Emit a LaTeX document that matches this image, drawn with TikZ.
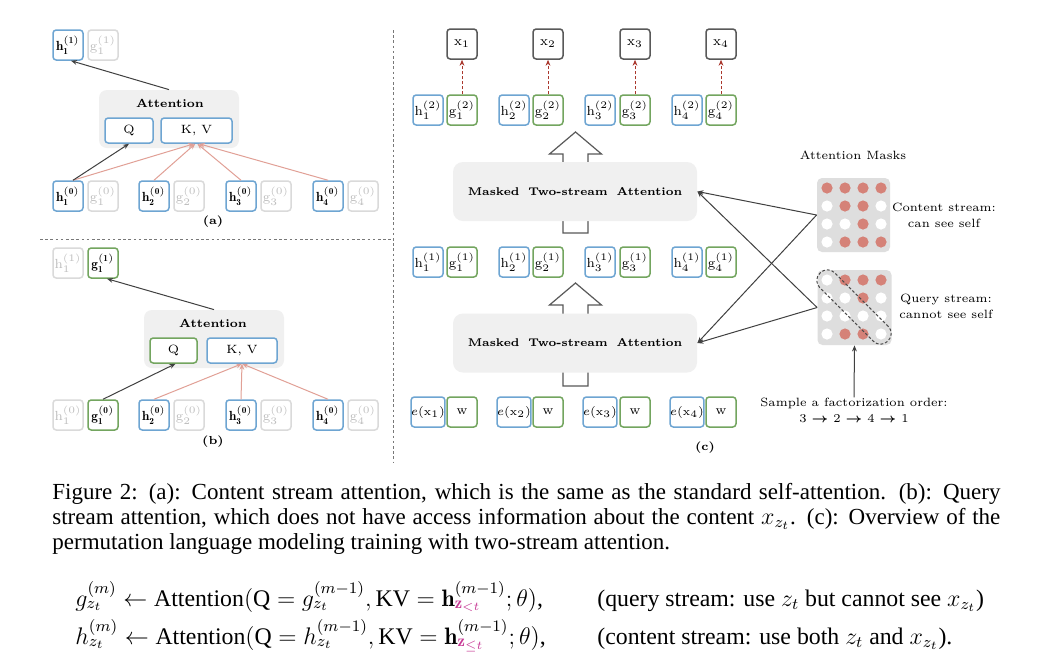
\documentclass[tikz,border=0pt]{standalone}
\usepackage{amsmath}
\usepackage{fontspec}
\usetikzlibrary{arrows.meta,shapes.geometric}
\newfontfamily\capfont{Liberation Serif}
\definecolor{bblue}{RGB}{110,165,210}
\definecolor{ggreen}{RGB}{115,165,95}
\definecolor{lgray}{RGB}{218,218,218}
\definecolor{lgtext}{RGB}{190,190,190}
\definecolor{attfill}{RGB}{240,240,240}
\definecolor{pinkline}{RGB}{225,160,150}
\definecolor{darkred}{RGB}{170,55,45}
\definecolor{dotred}{RGB}{213,130,120}
\definecolor{maskbg}{RGB}{222,222,222}
\definecolor{zcol}{RGB}{200,60,150}
\definecolor{sepgray}{RGB}{120,120,120}
\newcommand\diagfont{\fontsize{6}{7}\selectfont}
\newcommand\cellfont{\fontsize{6.6}{7.6}\selectfont}
\newcommand\blockarrow[4]{%
  \draw[blk] ({#1-12.5},#4) -- ({#1+12.5},#4) -- ({#1+12.5},#3) -- ({#1+26},#3) -- (#1,#2) -- ({#1-26},#3) -- ({#1-12.5},#3) -- cycle;}
\tikzset{
  cell/.style={draw, rounded corners=1.6pt, line width=0.75pt, minimum width=15pt, minimum height=15pt, inner sep=0pt, font=\cellfont, fill=white},
  hcell/.style={cell, draw=bblue},
  gcell/.style={cell, draw=ggreen},
  offcell/.style={cell, draw=lgray, text=lgtext},
  xcell/.style={cell, draw=black!65},
  attbox/.style={fill=attfill, rounded corners=4pt, minimum width=70pt, minimum height=29pt, inner sep=0pt},
  mbox/.style={fill=attfill, rounded corners=5pt, minimum width=122pt, minimum height=29.5pt, inner sep=0pt, font=\fontsize{5.6}{6.6}\selectfont\bfseries},
  blk/.style={draw=black!65, fill=white, line width=0.6pt},
  arr/.style={-{Stealth[length=3pt,width=2.4pt]}, line width=0.5pt, draw=black!75},
  parr/.style={arr, draw=pinkline},
  rarr/.style={arr, draw=darkred, dash pattern=on 1.5pt off 1pt},
  dot1/.style={circle, inner sep=0pt, minimum size=5.6pt, fill=dotred},
  dot0/.style={circle, inner sep=0pt, minimum size=5.6pt, fill=white},
  lbl/.style={font=\diagfont, align=center, inner sep=0pt},
  attlbl/.style={lbl, font=\fontsize{5.8}{6.8}\selectfont\bfseries},
  sep/.style={draw=sepgray, line width=0.5pt, dash pattern=on 1.3pt off 1.3pt},
  captxt/.style={font=\capfont\fontsize{11.5}{12.5}\selectfont, anchor=base west, inner sep=0pt},
  eqtxt/.style={font=\capfont\fontsize{11.9}{13}\selectfont, anchor=base west, inner sep=0pt},
}
\begin{document}
\begin{tikzpicture}[x=0.5pt,y=-0.5pt]
\useasboundingbox (0,0) rectangle (1039,671);
\fill[white] (0,0) rectangle (1039,671);

% separators
\draw[sep] (40,239) -- (393,239);
\draw[sep] (393,30) -- (393,462);

% ---------- panel (a)
\node[attbox] (aatt) at (169,119) {};
\node[attlbl] (aattl) at (170,103) {Attention};
\node[hcell, minimum width=24pt, minimum height=12.5pt, font=\diagfont] (aq) at (129,130.5) {Q};
\node[hcell, minimum width=35.5pt, minimum height=12.5pt, font=\diagfont] (akv) at (196.5,130.5) {K, V};
\node[hcell] (ah1t) at (68,45) {$\mathbf{h_1^{(1)}}$};
\node[offcell] (ag1t) at (103,45) {$\mathrm{g}_1^{(1)}$};
\node[hcell] (ah1) at (68,196) {$\mathbf{h_1^{(0)}}$};
\node[offcell] (ag1) at (103,196) {$\mathrm{g}_1^{(0)}$};
\node[hcell] (ah2) at (154,196) {$\mathbf{h_2^{(0)}}$};
\node[offcell] (ag2) at (189,196) {$\mathrm{g}_2^{(0)}$};
\node[hcell] (ah3) at (241,196) {$\mathbf{h_3^{(0)}}$};
\node[offcell] (ag3) at (276,196) {$\mathrm{g}_3^{(0)}$};
\node[hcell] (ah4) at (328,196) {$\mathbf{h_4^{(0)}}$};
\node[offcell] (ag4) at (363,196) {$\mathrm{g}_4^{(0)}$};
\node[attlbl] (alab) at (213,222) {(a)};
\draw[arr] (aatt.north) -- ([xshift=1.5pt]ah1t.south);
\draw[parr] ([xshift=2.5pt]ah1.north) -- ([xshift=-1.2pt]akv.south);
\draw[parr] (ah2.north) -- ([xshift=-0.6pt]akv.south);
\draw[parr] (ah3.north) -- ([xshift=0.4pt]akv.south);
\draw[parr] (ah4.north) -- ([xshift=1.2pt]akv.south);
\draw[arr] ([xshift=2.5pt]ah1.north) -- (aq.south);

% ---------- panel (b)
\node[attbox] (batt) at (214,339) {};
\node[attlbl] (battl) at (213,323) {Attention};
\node[gcell, minimum width=23.5pt, minimum height=12.5pt, font=\diagfont] (bq) at (173.5,350.5) {Q};
\node[hcell, minimum width=35pt, minimum height=12.5pt, font=\diagfont] (bkv) at (242,350.5) {K, V};
\node[offcell] (bh1t) at (68,263) {$\mathrm{h}_1^{(1)}$};
\node[gcell] (bg1t) at (103,263) {$\mathbf{g_1^{(1)}}$};
\node[offcell] (bh1) at (68,415) {$\mathrm{h}_1^{(0)}$};
\node[gcell] (bg1) at (103,415) {$\mathbf{g_1^{(0)}}$};
\node[hcell] (bh2) at (154,415) {$\mathbf{h_2^{(0)}}$};
\node[offcell] (bg2) at (189,415) {$\mathrm{g}_2^{(0)}$};
\node[hcell] (bh3) at (241,415) {$\mathbf{h_3^{(0)}}$};
\node[offcell] (bg3) at (276,415) {$\mathrm{g}_3^{(0)}$};
\node[hcell] (bh4) at (328,415) {$\mathbf{h_4^{(0)}}$};
\node[offcell] (bg4) at (363,415) {$\mathrm{g}_4^{(0)}$};
\node[attlbl] (blab) at (213,442) {(b)};
\draw[arr] (batt.north) -- ([xshift=2pt]bg1t.south);
\draw[parr] (bh2.north) -- (bkv.south);
\draw[parr] (bh3.north) -- (bkv.south);
\draw[parr] (bh4.north) -- (bkv.south);
\draw[arr] (bg1.north) -- ([xshift=1pt]bq.south);

% ---------- panel (c)
\blockarrow{575.5}{132}{154}{233}
\blockarrow{575.5}{283}{305}{386}
\node[mbox] (m1) at (575,191.5) {Masked\,\, Two-stream\,\, Attention};
\node[mbox] (m2) at (575,343) {Masked\,\, Two-stream\,\, Attention};
\foreach \i/\hx/\gx in {1/428/462, 2/514/548, 3/600/635, 4/687/721}{
  \node[xcell] (x\i) at (\gx,44) {$\mathrm{x}_\i$};
  \node[hcell] (chh\i) at (\hx,110) {$\mathrm{h}_\i^{(2)}$};
  \node[gcell] (cgg\i) at (\gx,110) {$\mathrm{g}_\i^{(2)}$};
  \node[hcell] (ch\i) at (\hx,262) {$\mathrm{h}_\i^{(1)}$};
  \node[gcell] (cg\i) at (\gx,262) {$\mathrm{g}_\i^{(1)}$};
  \node[hcell, font=\fontsize{5.7}{6.5}\selectfont] (ce\i) at (\hx,412) {$e(\mathrm{x}_\i)$};
  \node[gcell] (cw\i) at (\gx,412) {$\mathrm{w}$};
  \draw[rarr] (cgg\i.north) -- (x\i.south);
}
\node[attlbl] (clab) at (705,448) {(c)};

% masks
\node[lbl] (mtitle) at (853,155) {Attention Masks};
\node[fill=maskbg, rounded corners=2.5pt, minimum width=36.5pt, minimum height=37pt, inner sep=0pt] (cmask) at (853.5,215) {};
\node[fill=maskbg, rounded corners=2.5pt, minimum width=37pt, minimum height=37.5pt, inner sep=0pt] (qmask) at (854.5,307.5) {};
\foreach \r/\a/\b/\c/\d in {1/1/1/1/1, 2/0/1/1/0, 3/0/0/1/0, 4/0/1/1/1}{
  \foreach \col/\v in {1/\a, 2/\b, 3/\c, 4/\d}{
    \node[dot\v] (cd\r\col) at ({827+18*(\col-1)},{188+18*(\r-1)}) {};
  }
}
\foreach \r/\a/\b/\c/\d in {1/0/1/1/1, 2/0/0/1/0, 3/0/0/0/0, 4/0/1/1/0}{
  \foreach \col/\v in {1/\a, 2/\b, 3/\c, 4/\d}{
    \node[dot\v] (qd\r\col) at ({827+18*(\col-1)},{280+18*(\r-1)}) {};
  }
}
\node[draw=black!70, dash pattern=on 1.4pt off 1pt, line width=0.5pt, rounded corners=5pt, minimum width=48pt, minimum height=10.5pt, rotate=-45] (diag) at (854,307) {};
\node[lbl] (ctext) at (944,215.5) {Content stream:\\[1pt]can see self};
\node[lbl] (qtext) at (946,306.5) {Query stream:\\[1pt]cannot see self};
\node[lbl] (sample) at (854,410.5) {Sample a factorization order:\\[1.3pt]3 $\boldsymbol{\rightarrow}$ 2 $\boldsymbol{\rightarrow}$ 4 $\boldsymbol{\rightarrow}$ 1};
\draw[arr] (sample.north) -- (qmask.south);
\draw[arr] (cmask.west) -- (m1.east);
\draw[arr] (cmask.west) -- (m2.east);
\draw[arr] (qmask.west) -- (m1.east);
\draw[arr] (qmask.west) -- (m2.east);

% ---------- caption
\node[captxt] (cap1) at (52,499) {\makebox[474pt][s]{Figure 2: (a): Content stream attention, which is the same as the standard self-attention. (b): Query}};
\node[captxt] (cap2) at (52,524) {\makebox[474pt][s]{stream attention, which does not have access information about the content $x_{z_t}$. (c): Overview of the}};
\node[captxt] (cap3) at (52,549) {permutation language modeling training with two-stream attention.};

% ---------- equations
\node[eqtxt] (eq1) at (75,606) {$g_{z_t}^{(m)} \leftarrow \mbox{Attention}(\mbox{Q} = g_{z_t}^{(m-1)}, \mbox{KV} = \mathbf{h}^{(m-1)}_{\textcolor{zcol}{\mathbf{z}_{<t}}}; \theta)$,};
\node[eqtxt] (eq1r) at (597,606) {(query stream: use $z_t$ but cannot see $x_{z_t}$)};
\node[eqtxt] (eq2) at (75,644) {$h_{z_t}^{(m)} \leftarrow \mbox{Attention}(\mbox{Q} = h_{z_t}^{(m-1)}, \mbox{KV} = \mathbf{h}^{(m-1)}_{\textcolor{zcol}{\mathbf{z}_{\leq t}}}; \theta)$,};
\node[eqtxt] (eq2r) at (597,644) {(content stream: use both $z_t$ and $x_{z_t}$).};
\end{tikzpicture}
\end{document}
